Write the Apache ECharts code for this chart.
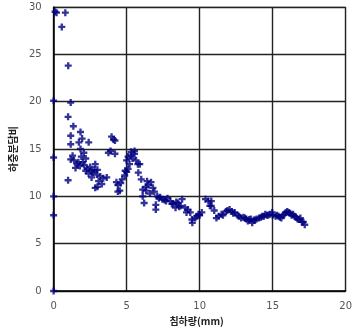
<!DOCTYPE html>
<html><head><meta charset="utf-8">
<script src="https://cdn.jsdelivr.net/npm/echarts@6/dist/echarts.min.js"></script>
<style>html,body{margin:0;padding:0;background:#fff}#c{width:355px;height:333px}</style>
</head><body><div id="c"></div>
<script>
const settlement = [0,0,0,0,0,0.1,0.2,0.8,0.56,1.0,1.17,
0.99,1.35,1.17,1.84,1.95,1.17,1.73,2.4,1.84,2.07,1.9,2.2,
3.97,4.1,4.2,3.75,4.2,3.9,
1.17,1.4,1.6,1.5,1.8,2.3,2.5,2.85,2.7,2.96,2.2,2.4,2.6,2.8,3.0,2.0,
0.99,3.08,3.64,3.3,2.85,3.0,4.3,4.4,4.53,4.4,4.87,4.7,5.0,5.1,
5.3,5.54,5.54,5.3,5.2,5.65,5.77,5.9,5.0,5.1,6.0,6.1,6.67,6.8,6.33,6.1,6.2,6.5,6.4,6.6,6.9,7.1,7.45,7.3,7.6,8.0,7.8,7.0,7.0,8.35,8.2,8.5,8.8,8.7,9.0,9.1,9.36,9.5,9.47,9.7,9.92,10.15,10.4,10.6,10.8,10.7,10.8,11.0,11.15,11.3,11.5,11.8,12.05,12.2,12.4,12.6,12.84,13.0,13.2,13.4,13.6,13.8,14.07,14.3,14.5,14.7,14.97,15.2,15.4,15.6,15.8,16.0,16.2,16.4,16.6,16.8,16.9,17.0,17.2,17.1,
11.6,11.9,12.3,12.7,13.1,13.3,13.5,13.7,13.9,14.2,14.4,14.6,14.8,15.0,15.3,15.5,15.7,15.9,16.1,16.3,16.5,16.7,
1.3,1.7,2.1,2.6,3.2,3.4,4.6,4.9,5.4,5.8,6.3,7.2,7.7,8.1,8.4,8.6,9.2,9.8,10.0];
const ratio = [0,8,10,14.1,20.1,29.5,29.4,29.4,27.9,23.8,19.9,
18.4,17.4,16.4,16.8,16.1,15.5,15.7,15.7,15.0,14.6,14.2,14.0,
16.3,16.0,15.9,14.6,14.5,14.8,
13.9,13.8,13.4,13.0,13.2,12.9,13.1,13.4,12.5,12.3,12.7,12.4,12.0,12.8,12.8,13.6,
11.7,11.6,12.0,11.3,10.9,11.0,11.5,11.2,10.6,10.5,12.2,11.8,12.6,12.9,
14.7,14.5,14.8,14.3,13.4,13.8,13.4,13.4,13.8,14.2,11.8,10.7,11.5,10.9,10.6,10.0,9.3,11.2,11.6,10.3,10.5,10.0,9.7,9.9,9.6,9.5,9.8,8.6,9.1,8.8,9.2,9.3,9.7,9.0,8.8,8.3,8.3,7.2,7.55,7.7,8.1,8.3,9.7,9.5,9.5,9.0,9.0,8.5,7.7,7.9,8.1,8.4,8.6,8.4,8.3,8.0,7.7,7.8,7.6,7.55,7.2,7.5,7.7,7.9,8.1,8.0,8.3,7.9,7.9,7.7,8.1,8.4,8.2,8.1,7.8,7.55,7.7,7.3,7.0,7.3,
8.0,8.5,8.2,7.9,7.7,7.4,7.6,7.5,7.6,7.8,7.9,8.0,8.1,8.0,8.0,7.8,8.0,8.3,8.3,8.0,7.9,7.6,
14.3,13.6,13.3,12.7,12.1,11.9,11.4,12.7,14.0,12.5,11.0,9.8,9.5,9.2,9.4,8.9,8.6,7.9,8.0];
const xTicks = [0,5,10,15,20];
const yTicks = [0,5,10,15,20,25,30];
const xTitle = '침하량(mm)';
const yTitle = '하중분담비';

const pts = settlement.map((x,i)=>[x, ratio[i]]);
const chart = echarts.init(document.getElementById('c'));
const font = "'DejaVu Sans', sans-serif";
chart.setOption({
  animation:false,
  grid:{left:51,right:7,top:7,bottom:42,show:true,borderColor:'#b0b0b0',borderWidth:1},
  xAxis:{type:'value',min:xTicks[0],max:xTicks[xTicks.length-1],interval:5,
    axisLine:{lineStyle:{color:'#000',width:1.5}},axisTick:{show:false},
    splitLine:{lineStyle:{color:'#222',width:1.4}},
    axisLabel:{color:'#555',fontSize:10,fontFamily:font,margin:10},
    name:xTitle,nameLocation:'middle',nameGap:24,
    nameTextStyle:{color:'#222',fontSize:10,fontWeight:'bold',fontFamily:"'Noto Sans CJK KR', sans-serif",padding:[0,0,0,-6]}},
  yAxis:{type:'value',min:yTicks[0],max:yTicks[yTicks.length-1],interval:5,
    axisLine:{show:true,lineStyle:{color:'#000',width:1.5}},axisTick:{show:false},
    splitLine:{lineStyle:{color:'#222',width:1.4}},
    axisLabel:{color:'#555',fontSize:10,fontFamily:font,margin:12},
    name:yTitle,nameLocation:'middle',nameGap:33,
    nameTextStyle:{color:'#222',fontSize:10,fontWeight:'bold',fontFamily:"'Noto Sans CJK KR', sans-serif"}},
  series:[{type:'scatter',data:pts,symbol:'path://M2,0H4V2H6V4H4V6H2V4H0V2H2Z',symbolSize:7,
    itemStyle:{color:'#000080'}}]
});
</script></body></html>
